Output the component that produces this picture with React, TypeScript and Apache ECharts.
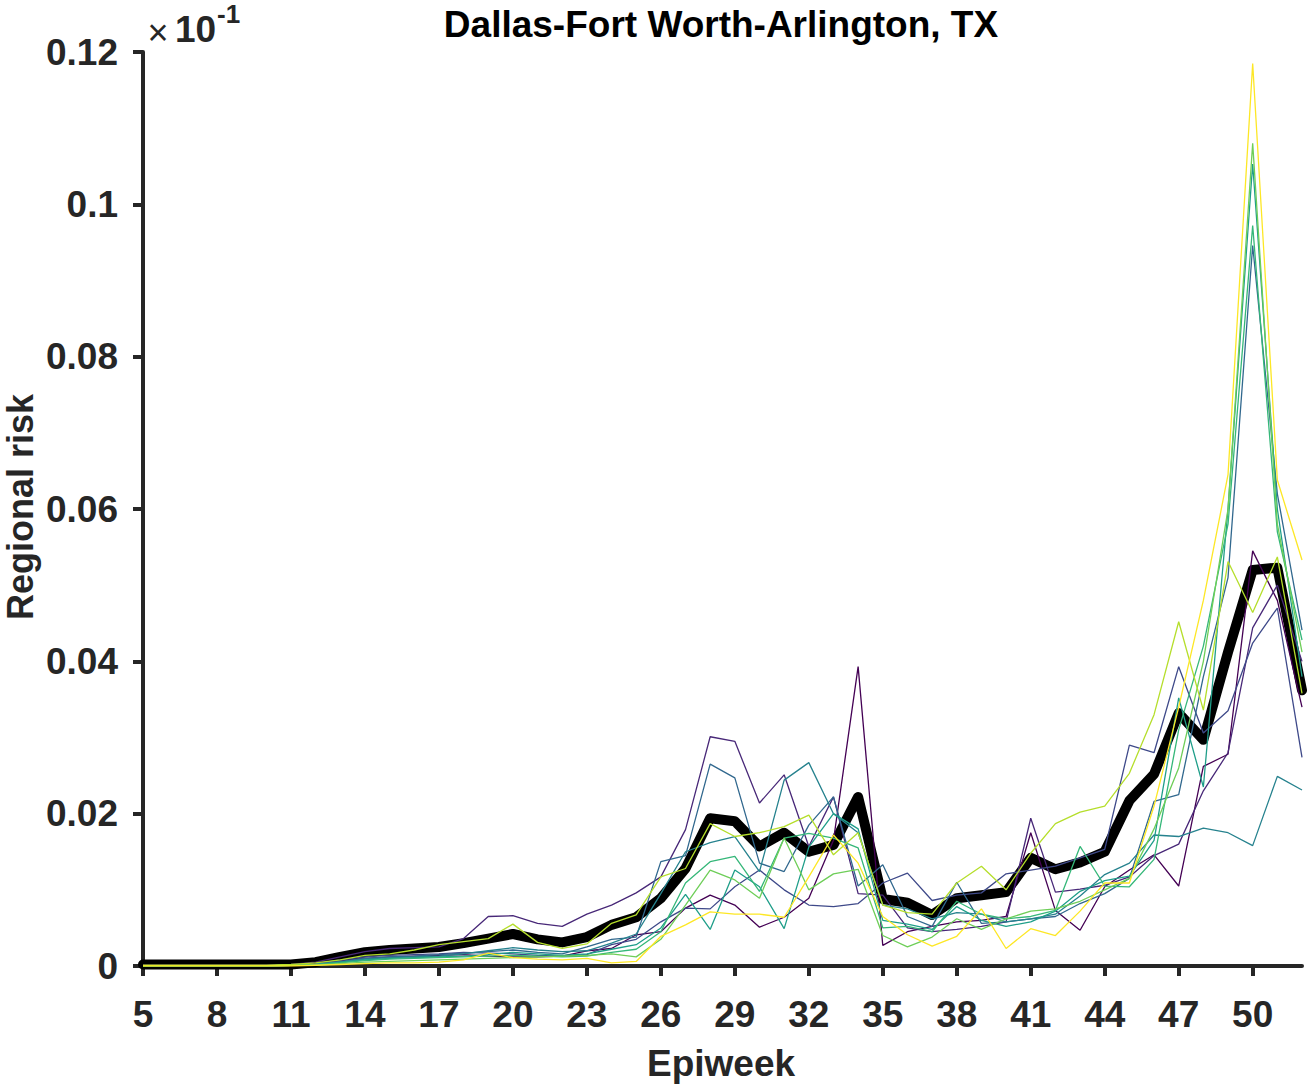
import React, { useEffect, useRef } from 'react';
import * as echarts from 'echarts';

const weeks = [5, 6, 7, 8, 9, 10, 11, 12, 13, 14, 15, 16, 17, 18, 19, 20, 21, 22, 23, 24, 25, 26, 27, 28, 29, 30, 31, 32, 33, 34, 35, 36, 37, 38, 39, 40, 41, 42, 43, 44, 45, 46, 47, 48, 49, 50, 51, 52];
const xTickWeeks = [5, 8, 11, 14, 17, 20, 23, 26, 29, 32, 35, 38, 41, 44, 47, 50];

const meanRisk = [
  0.0002, 0.0002, 0.0002, 0.0002, 0.0002, 0.0002, 0.0002, 0.0005,
  0.0012, 0.0018, 0.0021, 0.0023, 0.0025, 0.003, 0.0036, 0.0042, 0.0035, 0.0031,
  0.0038, 0.0054, 0.0064, 0.0089, 0.0128, 0.0194, 0.019, 0.0157, 0.0175, 0.015, 0.0159, 0.0222,
  0.0088, 0.0083, 0.0067, 0.0089, 0.0093, 0.0097, 0.0142, 0.0127, 0.0136, 0.015, 0.0217, 0.0252,
  0.0332, 0.0297, 0.0412, 0.052, 0.0523, 0.0362,
];

const run0 = [
  0, 0, 0, 0, 0, 0, 0.0001, 0.0002,
  0.0007, 0.001, 0.0012, 0.0013, 0.0014, 0.0015, 0.0013, 0.0012, 0.0012, 0.0013,
  0.002, 0.0023, 0.0041, 0.0045, 0.0076, 0.0093, 0.008, 0.0051, 0.0064, 0.0089, 0.0165, 0.0393,
  0.0027, 0.0045, 0.0052, 0.0058, 0.006, 0.0065, 0.0175, 0.0073, 0.0047, 0.0104, 0.0126, 0.0146,
  0.0105, 0.0262, 0.0278, 0.0545, 0.048, 0.034,
];
const run1 = [
  0.0001, 0.0001, 0.0001, 0.0001, 0.0001, 0.0001, 0.0002, 0.0005,
  0.0012, 0.0019, 0.0023, 0.0024, 0.0025, 0.0036, 0.0065, 0.0066, 0.0056, 0.0052,
  0.0068, 0.008, 0.0096, 0.0117, 0.0179, 0.0301, 0.0295, 0.0214, 0.0251, 0.0157, 0.0222, 0.0095,
  0.0093, 0.005, 0.0045, 0.0048, 0.0052, 0.0058, 0.0194, 0.0097, 0.0101, 0.0106, 0.0117, 0.0145,
  0.016, 0.023, 0.028, 0.0444, 0.05, 0.04,
];
const run2 = [
  0, 0, 0, 0, 0, 0, 0.0001, 0.0003,
  0.0008, 0.0012, 0.0014, 0.0015, 0.0016, 0.0018, 0.0017, 0.0016, 0.0014, 0.0013,
  0.0015, 0.0028, 0.0035, 0.0058, 0.0076, 0.0075, 0.0104, 0.0126, 0.01, 0.008, 0.0078, 0.0082,
  0.0109, 0.0122, 0.0086, 0.0093, 0.0096, 0.0121, 0.0126, 0.0131, 0.0142, 0.0153, 0.029, 0.028,
  0.0393, 0.0306, 0.0335, 0.0424, 0.047, 0.0274,
];
const run3 = [
  0, 0, 0, 0, 0, 0, 0.0001, 0.0002,
  0.0006, 0.001, 0.0012, 0.0013, 0.0015, 0.0017, 0.0019, 0.0021, 0.0018, 0.0016,
  0.0025, 0.0035, 0.0038, 0.0137, 0.0145, 0.0265, 0.0247, 0.0135, 0.0124, 0.0185, 0.0222, 0.0105,
  0.0133, 0.0065, 0.0052, 0.011, 0.0056, 0.0058, 0.0062, 0.0065, 0.0082, 0.0095, 0.0115, 0.0216,
  0.0225, 0.038, 0.051, 0.0946, 0.062, 0.0441,
];
const run4 = [
  0, 0, 0, 0, 0, 0, 0.0001, 0.0002,
  0.0005, 0.0009, 0.0011, 0.0012, 0.0013, 0.0016, 0.002, 0.0024, 0.0021, 0.0019,
  0.002, 0.003, 0.0042, 0.0095, 0.015, 0.0162, 0.017, 0.0124, 0.0244, 0.0267, 0.02, 0.0175,
  0.008, 0.0075, 0.0062, 0.007, 0.0068, 0.0058, 0.0062, 0.0068, 0.0092, 0.012, 0.0135, 0.0172,
  0.017, 0.0181, 0.0175, 0.0158, 0.0249, 0.0231,
];
const run5 = [
  0, 0, 0, 0, 0, 0, 0.0001, 0.0002,
  0.0005, 0.0008, 0.001, 0.0011, 0.0012, 0.0013, 0.0015, 0.0018, 0.0016, 0.0014,
  0.0016, 0.0022, 0.0028, 0.005, 0.0094, 0.0048, 0.0126, 0.0104, 0.0049, 0.0156, 0.02, 0.018,
  0.006, 0.0055, 0.0048, 0.0078, 0.006, 0.0052, 0.0058, 0.0072, 0.0098, 0.0112, 0.0118, 0.0165,
  0.0352, 0.0235, 0.06, 0.1053, 0.06, 0.038,
];
const run6 = [
  0, 0, 0, 0, 0, 0, 0.0001, 0.0002,
  0.0004, 0.0007, 0.0009, 0.001, 0.0011, 0.0012, 0.0013, 0.0014, 0.0013, 0.0012,
  0.0013, 0.0018, 0.0022, 0.0045, 0.0109, 0.0137, 0.0144, 0.0098, 0.0168, 0.0174, 0.0168, 0.0155,
  0.005, 0.0052, 0.0045, 0.0085, 0.0068, 0.0062, 0.0065, 0.0073, 0.0157, 0.0105, 0.0104, 0.014,
  0.031, 0.042, 0.058, 0.0972, 0.057, 0.0428,
];
const run7 = [
  0, 0, 0, 0, 0, 0, 0.0001, 0.0001,
  0.0003, 0.0005, 0.0006, 0.0007, 0.0008, 0.0009, 0.001, 0.0011, 0.0012, 0.0013,
  0.0014, 0.0016, 0.0012, 0.0035, 0.008, 0.0126, 0.0113, 0.0089, 0.0168, 0.01, 0.0121, 0.0127,
  0.004, 0.0025, 0.0038, 0.0062, 0.0048, 0.0062, 0.0072, 0.0075, 0.0085, 0.01, 0.0115, 0.018,
  0.026, 0.04, 0.06, 0.108, 0.058, 0.0412,
];
const run8 = [
  0.0001, 0.0001, 0.0001, 0.0001, 0.0001, 0.0001, 0.0002, 0.0004,
  0.0008, 0.0014, 0.0016, 0.0021, 0.0028, 0.0032, 0.0036, 0.0055, 0.0031, 0.0023,
  0.0029, 0.0056, 0.0067, 0.0117, 0.0128, 0.0187, 0.017, 0.0175, 0.0183, 0.0198, 0.0146, 0.0175,
  0.008, 0.007, 0.0068, 0.0109, 0.0131, 0.01, 0.0148, 0.0187, 0.0202, 0.021, 0.0253, 0.033,
  0.0452, 0.0336, 0.0531, 0.0464, 0.0537, 0.0358,
];
const run9 = [
  0, 0, 0, 0, 0, 0, 0, 0.0001,
  0.0002, 0.0003, 0.0004, 0.0004, 0.0005, 0.0008, 0.0017, 0.0011, 0.0009, 0.0008,
  0.001, 0.0004, 0.0006, 0.0039, 0.0054, 0.0071, 0.0068, 0.0068, 0.0064, 0.0117, 0.0172, 0.0135,
  0.0065, 0.0041, 0.0026, 0.0039, 0.0075, 0.0023, 0.0049, 0.004, 0.0072, 0.0109, 0.0109, 0.021,
  0.034, 0.048, 0.0645, 0.1185, 0.0638, 0.0533,
];

const runs = [run0, run1, run2, run3, run4, run5, run6, run7, run8, run9];
const runColors = ['#440154', '#482878', '#3e4989', '#31688e', '#26828e', '#1f9e89', '#35b779', '#6ece58', '#b5de2b', '#fde725'];

const FONT = '"Liberation Sans", Arial, Helvetica, sans-serif';
const INK = '#262626';

export default function App() {
  const ref = useRef<HTMLDivElement>(null);
  useEffect(() => {
    if (!ref.current) return;
    const chart = echarts.init(ref.current, null, { renderer: 'svg' });
    const toPairs = (arr: number[]) => weeks.map((w, i) => [w, arr[i]]);
    const series: any[] = [
      {
        type: 'line',
        data: toPairs(meanRisk),
        showSymbol: false,
        symbol: 'none',
        lineStyle: { color: '#000000', width: 10, join: 'round', cap: 'round' },
        z: 2,
      },
      ...runs.map((r, i) => ({
        type: 'line',
        data: toPairs(r),
        showSymbol: false,
        symbol: 'none',
        lineStyle: { color: runColors[i], width: 1.3 },
        z: 3,
      })),
    ];
    chart.setOption({
      animation: false,
      backgroundColor: '#ffffff',
      grid: { left: 143, top: 52, right: 8, bottom: 120, containLabel: false },
      xAxis: {
        type: 'value',
        min: 5,
        max: 52,
        interval: 3,
        axisLine: { show: true, onZero: false, lineStyle: { color: INK, width: 4 } },
        axisTick: { show: true, inside: false, length: 10, customValues: xTickWeeks, lineStyle: { color: INK, width: 4 } },
        axisLabel: {
          customValues: xTickWeeks,
          margin: 30,
          color: INK,
          fontFamily: FONT,
          fontWeight: 'bold',
          fontSize: 37,
        },
        splitLine: { show: false },
      },
      yAxis: {
        type: 'value',
        min: 0,
        max: 0.12,
        interval: 0.02,
        axisLine: { show: true, lineStyle: { color: INK, width: 4 } },
        axisTick: { show: true, inside: false, length: 10, lineStyle: { color: INK, width: 4 } },
        axisLabel: {
          margin: 25,
          color: INK,
          fontFamily: FONT,
          fontWeight: 'bold',
          fontSize: 37,
          formatter: (v: number) => (v === 0 ? '0' : String(+v.toFixed(2))),
        },
        splitLine: { show: false },
      },
      graphic: [
        {
          type: 'text',
          x: 721,
          y: 24,
          style: {
            text: 'Dallas-Fort Worth-Arlington, TX',
            fill: '#000000',
            font: `bold 37px ${FONT}`,
            textAlign: 'center',
            textVerticalAlign: 'middle',
          },
        },
        {
          type: 'text',
          x: 721,
          y: 1063,
          style: {
            text: 'Epiweek',
            fill: INK,
            font: `bold 37px ${FONT}`,
            textAlign: 'center',
            textVerticalAlign: 'middle',
          },
        },
        {
          type: 'text',
          x: 20,
          y: 507,
          rotation: Math.PI / 2,
          style: {
            text: 'Regional risk',
            fill: INK,
            font: `bold 36px ${FONT}`,
            textAlign: 'center',
            textVerticalAlign: 'middle',
          },
        },
        {
          type: 'text',
          x: 158,
          y: 32,
          style: {
            text: '×',
            fill: INK,
            font: `36px ${FONT}`,
            textAlign: 'center',
            textVerticalAlign: 'middle',
          },
        },
        {
          type: 'text',
          x: 175,
          y: 29,
          style: {
            text: '10',
            fill: INK,
            font: `bold 37px ${FONT}`,
            textAlign: 'left',
            textVerticalAlign: 'middle',
          },
        },
        {
          type: 'text',
          x: 217,
          y: 14,
          style: {
            text: '-1',
            fill: INK,
            font: `bold 26px ${FONT}`,
            textAlign: 'left',
            textVerticalAlign: 'middle',
          },
        },
      ],
      series,
    });
    return () => chart.dispose();
  }, []);
  return <div ref={ref} style={{ position: 'absolute', left: 0, top: 0, width: 1310, height: 1086 }} />;
}
